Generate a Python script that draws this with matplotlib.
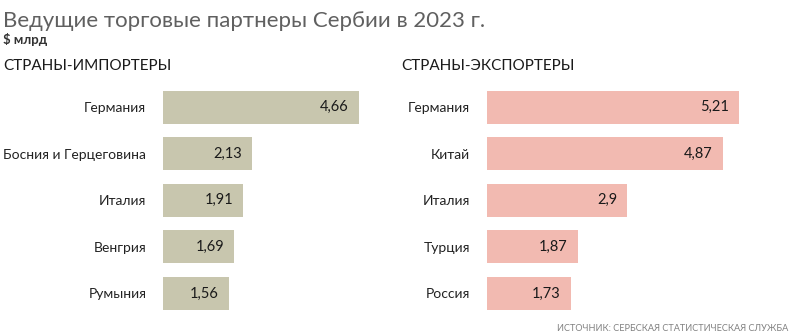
import matplotlib.pyplot as plt

plt.rcParams['font.family'] = ['Lato', 'DejaVu Sans']

importCountries = ["Германия", "Босния и Герцеговина", "Италия", "Венгрия", "Румыния"]
importValues = [4.66, 2.13, 1.91, 1.69, 1.56]
exportCountries = ["Германия", "Китай", "Италия", "Турция", "Россия"]
exportValues = [5.21, 4.87, 2.9, 1.87, 1.73]

W, H = 800, 336
fig = plt.figure(figsize=(W / 100, H / 100), dpi=100)

def drawPanel(left, right, pxPerUnit, countries, values, color):
    ax = fig.add_axes([left / W, (H - 316.8) / H, (right - left) / W, 233 / H])
    pos = range(len(values))
    ax.barh(pos, values, height=0.71, color=color)
    ax.set_xlim(0, (right - left) / pxPerUnit)
    ax.set_ylim(len(values) - 0.5, -0.5)
    ax.set_yticks(list(pos))
    ax.set_yticklabels(countries, fontsize=10, color="#222222")
    ax.tick_params(axis='y', length=0, pad=12)
    ax.set_xticks([])
    for s in ax.spines.values():
        s.set_visible(False)
    for i, v in enumerate(values):
        ax.text(v - 10 / pxPerUnit, i, f"{v:g}".replace(".", ","), ha='right', va='center',
                fontsize=10.5, color="#1a1a1a")
    return ax

drawPanel(163, 370, 42.0, importCountries, importValues, "#c8c6ae")
drawPanel(487, 760, 48.4, exportCountries, exportValues, "#f2bab1")

fig.text(3 / W, 1 - 27 / H, "Ведущие торговые партнеры Сербии в 2023 г.", fontsize=16,
         color="#606060", ha='left', va='baseline')
fig.text(3 / W, 1 - 44 / H, "$ млрд", fontsize=9.5, fontweight='bold', color="#333333",
         ha='left', va='baseline')
fig.text(3 / W, 1 - 69.5 / H, "СТРАНЫ-ИМПОРТЕРЫ", fontsize=11, color="#1a1a1a",
         ha='left', va='baseline')
fig.text(401 / W, 1 - 69.5 / H, "СТРАНЫ-ЭКСПОРТЕРЫ", fontsize=11, color="#1a1a1a",
         ha='left', va='baseline')
fig.text(788 / W, 1 - 331 / H, "ИСТОЧНИК: СЕРБСКАЯ СТАТИСТИЧЕСКАЯ СЛУЖБА", fontsize=6.6,
         color="#808080", ha='right', va='baseline')

fig.savefig("out.png", dpi=100)
